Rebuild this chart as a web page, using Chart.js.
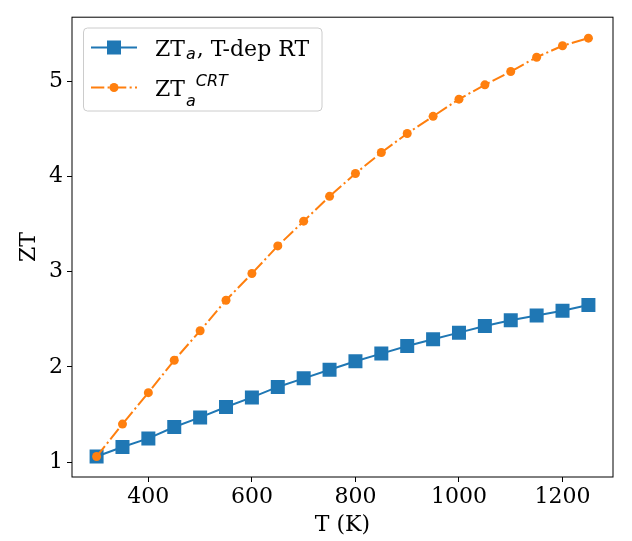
<!DOCTYPE html>
<html>
<head>
<meta charset="utf-8">
<script src="https://cdn.jsdelivr.net/npm/chart.js@4.4.1/dist/chart.umd.min.js"></script>
<style>
  html, body { margin: 0; padding: 0; background: #fff; }
  #wrap { width: 632px; height: 541px; }
</style>
</head>
<body>
<div id="wrap"><canvas id="mainChart" width="632" height="541"></canvas></div>
<script>
const temps = [300, 350, 400, 450, 500, 550, 600, 650, 700, 750, 800, 850, 900, 950, 1000, 1050, 1100, 1150, 1200, 1250];
const ztTdep = [1.06, 1.16, 1.25, 1.37, 1.47, 1.58, 1.68, 1.79, 1.88, 1.97, 2.06, 2.14, 2.22, 2.29, 2.36, 2.43, 2.49, 2.54, 2.59, 2.65];
const ztCrt = [1.06, 1.40, 1.73, 2.07, 2.38, 2.70, 2.98, 3.27, 3.53, 3.79, 4.03, 4.25, 4.45, 4.63, 4.81, 4.96, 5.10, 5.25, 5.37, 5.45];
const xTicks = [400, 600, 800, 1000, 1200];
const yTicks = [1, 2, 3, 4, 5];

const BLUE = '#1f77b4';
const ORANGE = '#ff7f0e';
const SERIF = "'DejaVu Serif', serif";
const SANS = "'DejaVu Sans', sans-serif";
const DASHDOT = [13.3, 3.3, 2.1, 3.3];

// frame round the plot area + legend with sub/superscripts
const framePlugin = {
    id: 'frame',
    afterDraw(chart) {
        const { ctx, chartArea: a } = chart;
        ctx.save();
        ctx.strokeStyle = '#000';
        ctx.lineWidth = 1;
        ctx.strokeRect(a.left, a.top, a.right - a.left, a.bottom - a.top);

        // legend box
        const bx = 83.5, by = 28, bw = 238.5, bh = 83, r = 4;
        ctx.beginPath();
        ctx.roundRect(bx, by, bw, bh, r);
        ctx.fillStyle = 'rgba(255,255,255,0.8)';
        ctx.fill();
        ctx.strokeStyle = '#cccccc';
        ctx.lineWidth = 1;
        ctx.stroke();

        // row 1 handle
        ctx.strokeStyle = BLUE;
        ctx.lineWidth = 2;
        ctx.beginPath();
        ctx.moveTo(91, 47.5);
        ctx.lineTo(137, 47.5);
        ctx.stroke();
        ctx.fillStyle = BLUE;
        ctx.fillRect(114 - 7, 47.5 - 7, 14, 14);

        // row 2 handle
        ctx.strokeStyle = ORANGE;
        ctx.setLineDash(DASHDOT);
        ctx.beginPath();
        ctx.moveTo(91, 87.5);
        ctx.lineTo(137, 87.5);
        ctx.stroke();
        ctx.setLineDash([]);
        ctx.fillStyle = ORANGE;
        ctx.beginPath();
        ctx.arc(114, 87.5, 4.5, 0, Math.PI * 2);
        ctx.fill();

        // texts
        ctx.fillStyle = '#000';
        ctx.textBaseline = 'alphabetic';
        ctx.textAlign = 'left';
        let x = 155;
        ctx.font = '22px ' + SERIF;
        ctx.fillText('ZT', x, 55.5);
        x += ctx.measureText('ZT').width + 1;
        ctx.font = 'italic 16px ' + SANS;
        ctx.fillText('a', x, 58.5);
        x += ctx.measureText('a').width + 1;
        ctx.font = '22px ' + SERIF;
        ctx.fillText(', T-dep RT', x, 55.5);

        x = 155;
        ctx.font = '22px ' + SERIF;
        ctx.fillText('ZT', x, 96);
        x += ctx.measureText('ZT').width + 1;
        ctx.font = 'italic 16px ' + SANS;
        ctx.fillText('a', x, 105.5);
        x += ctx.measureText('a').width;
        ctx.fillText('CRT', x, 86);
        ctx.restore();
    }
};

function initChart() {
    const ctx = document.getElementById('mainChart').getContext('2d');
    Chart.defaults.color = '#000';
    Chart.defaults.font.family = SERIF;
    new Chart(ctx, {
        type: 'line',
        data: {
            datasets: [
                {
                    label: 'ZTa, T-dep RT',
                    data: temps.map((t, i) => ({ x: t, y: ztTdep[i] })),
                    borderColor: BLUE, backgroundColor: BLUE, borderWidth: 2,
                    pointStyle: 'rect', pointRadius: 9.9, pointHoverRadius: 9.9,
                    pointBorderWidth: 0, tension: 0, order: 1
                },
                {
                    label: 'ZTa CRT',
                    data: temps.map((t, i) => ({ x: t, y: ztCrt[i] })),
                    borderColor: ORANGE, backgroundColor: ORANGE, borderWidth: 2,
                    borderDash: DASHDOT,
                    pointStyle: 'circle', pointRadius: 4.5, pointHoverRadius: 4.5,
                    pointBorderWidth: 0, tension: 0, order: 0
                }
            ]
        },
        options: {
            responsive: false, animation: false,
            layout: { padding: { left: 0, right: 19, top: 16, bottom: 0 } },
            plugins: { legend: { display: false }, tooltip: { enabled: false } },
            scales: {
                x: {
                    type: 'linear', min: 252.5, max: 1297.5,
                    afterBuildTicks: s => { s.ticks = xTicks.map(v => ({ value: v })); },
                    afterFit: s => { s.height = 64; },
                    grid: { drawOnChartArea: false, drawTicks: true, tickLength: 5, color: '#000', lineWidth: 1 },
                    border: { display: false },
                    ticks: { font: { size: 22 }, padding: 2, maxRotation: 0, callback: v => String(v) },
                    title: { display: true, text: 'T (K)', font: { size: 22 }, padding: { top: 0, bottom: 3 } }
                },
                y: {
                    type: 'linear', min: 0.845, max: 5.67,
                    afterBuildTicks: s => { s.ticks = yTicks.map(v => ({ value: v })); },
                    afterFit: s => { s.width = 72; },
                    grid: { drawOnChartArea: false, drawTicks: true, tickLength: 5, color: '#000', lineWidth: 1 },
                    border: { display: false },
                    ticks: { font: { size: 22 }, padding: 4, callback: v => String(v) },
                    title: { display: true, text: 'ZT', font: { size: 22 }, padding: { top: 16, bottom: 0 } }
                }
            }
        },
        plugins: [framePlugin]
    });
}

initChart();
</script>
</body>
</html>
